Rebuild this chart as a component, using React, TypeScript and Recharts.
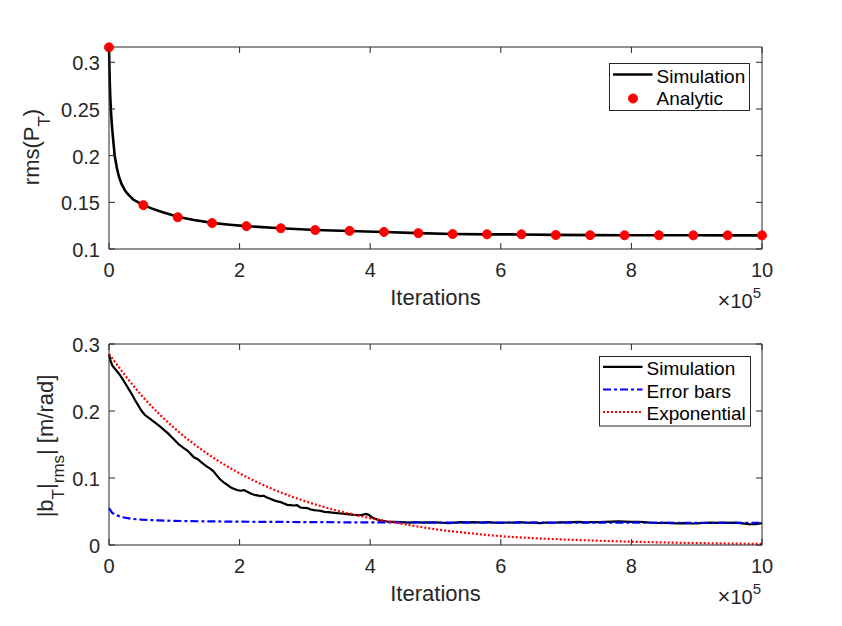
import React from 'react';
import { LineChart, Line, XAxis, YAxis, Legend } from 'recharts';

const FONT = '"Liberation Sans", Arial, Helvetica, sans-serif';
const AX = '#262626';

// x values are in units of 1e5 iterations
const xTicks = [0, 2, 4, 6, 8, 10];
const topYTicks = [0.1, 0.15, 0.2, 0.25, 0.3];
const bottomYTicks = [0, 0.1, 0.2, 0.3];

// Top panel: Simulation rms(P_T)
const topSimX = [0, 0.005, 0.012, 0.02, 0.03, 0.045, 0.06, 0.087, 0.12, 0.15, 0.19, 0.25, 0.3, 0.37, 0.45, 0.53, 0.65, 0.8, 1.05, 1.3, 1.58, 1.85, 2.1, 2.63, 3.16, 3.68, 4.21, 4.74, 5.26, 5.79, 6.31, 6.84, 7.37, 7.89, 8.42, 8.95, 9.47, 10];
const topSimY = [0.316, 0.3, 0.278, 0.262, 0.248, 0.232, 0.22, 0.2, 0.187, 0.178, 0.17, 0.162, 0.158, 0.153, 0.15, 0.147, 0.1435, 0.14, 0.1345, 0.131, 0.128, 0.126, 0.1245, 0.1222, 0.1204, 0.1193, 0.1182, 0.117, 0.1161, 0.1157, 0.1156, 0.1151, 0.1149, 0.1148, 0.1147, 0.1147, 0.1146, 0.1146];

// Top panel: Analytic markers
const analyticX = [0, 0.526, 1.053, 1.579, 2.105, 2.632, 3.158, 3.684, 4.211, 4.737, 5.263, 5.789, 6.316, 6.842, 7.368, 7.895, 8.421, 8.947, 9.474, 10];
const analyticY = [0.316, 0.147, 0.134, 0.1278, 0.1245, 0.1222, 0.1203, 0.1194, 0.1183, 0.117, 0.116, 0.1157, 0.1157, 0.115, 0.1148, 0.1147, 0.1147, 0.1146, 0.1146, 0.1146];

// Bottom panel: Simulation |b_T|_rms
const botSimX = [0, 0.02, 0.05, 0.1, 0.15, 0.2, 0.25, 0.3, 0.35, 0.4, 0.45, 0.5, 0.55, 0.62, 0.7, 0.78, 0.85, 0.9, 0.95, 1.0, 1.07, 1.14, 1.2, 1.25, 1.3, 1.36, 1.42, 1.5, 1.55, 1.6, 1.65, 1.7, 1.76, 1.81, 1.86, 1.91, 1.96, 2.01, 2.07, 2.11, 2.17, 2.22, 2.27, 2.32, 2.37, 2.42, 2.47, 2.52, 2.58, 2.63, 2.68, 2.73, 2.78, 2.83, 2.88, 2.93, 2.98, 3.04, 3.09, 3.14, 3.19, 3.24, 3.3, 3.36, 3.45, 3.55, 3.65, 3.75, 3.83, 3.88, 3.93, 3.98, 4.03, 4.08, 4.14, 4.2, 4.27, 4.35, 4.47, 4.6, 4.7, 4.8, 4.9, 5.0, 5.1, 5.2, 5.3, 5.4, 5.5, 5.6, 5.7, 5.8, 5.9, 6.0, 6.1, 6.2, 6.3, 6.4, 6.5, 6.6, 6.7, 6.8, 6.9, 7.0, 7.1, 7.2, 7.3, 7.4, 7.5, 7.6, 7.7, 7.8, 7.9, 8.0, 8.1, 8.2, 8.3, 8.4, 8.5, 8.6, 8.7, 8.8, 8.9, 9.0, 9.1, 9.2, 9.3, 9.4, 9.5, 9.6, 9.7, 9.8, 9.9, 10];
const botSimY = [0.285, 0.276, 0.268, 0.262, 0.256, 0.249, 0.241, 0.233, 0.225, 0.216, 0.208, 0.2, 0.194, 0.189, 0.183, 0.177, 0.171, 0.167, 0.162, 0.157, 0.15, 0.145, 0.141, 0.136, 0.131, 0.128, 0.123, 0.117, 0.114, 0.11, 0.104, 0.098, 0.093, 0.09, 0.086, 0.084, 0.082, 0.081, 0.082, 0.08, 0.077, 0.075, 0.074, 0.073, 0.0735, 0.071, 0.069, 0.067, 0.065, 0.064, 0.062, 0.06, 0.0595, 0.059, 0.0595, 0.056, 0.0555, 0.055, 0.053, 0.052, 0.0515, 0.051, 0.0495, 0.049, 0.048, 0.047, 0.046, 0.045, 0.0445, 0.045, 0.0465, 0.045, 0.041, 0.039, 0.037, 0.036, 0.035, 0.0345, 0.034, 0.0335, 0.034, 0.0333, 0.0338, 0.0338, 0.0332, 0.0328, 0.0334, 0.034, 0.0337, 0.0342, 0.0336, 0.034, 0.0335, 0.033, 0.0336, 0.0335, 0.034, 0.0332, 0.0333, 0.0328, 0.0336, 0.0332, 0.0339, 0.0337, 0.0342, 0.0345, 0.0338, 0.0343, 0.034, 0.0346, 0.0348, 0.0352, 0.0349, 0.0345, 0.0347, 0.0341, 0.0332, 0.0328, 0.033, 0.0325, 0.0322, 0.0326, 0.0321, 0.0322, 0.0328, 0.0334, 0.033, 0.0335, 0.0331, 0.0333, 0.0322, 0.0312, 0.031, 0.0327];

// Bottom panel: Error bars
const errX = [0, 0.05, 0.1, 0.2, 0.35, 0.5, 0.75, 1, 1.5, 2, 3, 4, 5, 6, 7, 8, 9, 10];
const errY = [0.055, 0.048, 0.045, 0.0415, 0.039, 0.0378, 0.0368, 0.036, 0.0353, 0.0348, 0.0342, 0.0337, 0.0335, 0.0334, 0.0333, 0.0333, 0.0332, 0.0332];

// Bottom panel: Exponential fit
const expX = [0, 0.5, 1, 1.5, 2, 2.5, 3, 3.5, 4, 4.5, 5, 5.5, 6, 6.5, 7, 7.5, 8, 8.5, 9, 9.5, 10];
const expY = [0.285, 0.2231, 0.1746, 0.1367, 0.107, 0.0837, 0.0655, 0.0512, 0.0401, 0.0314, 0.0235, 0.0178, 0.0132, 0.0102, 0.0081, 0.0064, 0.0049, 0.0038, 0.0029, 0.0022, 0.0016];

const zip = (xs: number[], ys: number[]) => xs.map((x, i) => ({ x, y: ys[i] }));
const topSim = zip(topSimX, topSimY);
const analytic = zip(analyticX, analyticY);
const botSim = zip(botSimX, botSimY);
const errBars = zip(errX, errY);
const expo = zip(expX, expY);

const TICK_FS = 20;
const TICK_LEN = 6;
const X_MARGIN = 14;
const Y_MARGIN = 9;
const PLOT_W = 653;

// bottom-axis tick: label plus inward tick marks at bottom and top edges
const makeXTick = (plotH: number) => (props: any) => {
  const { x, y, payload } = props;
  const axisY = y - X_MARGIN;
  return (
    <g>
      <line x1={x} y1={axisY} x2={x} y2={axisY - TICK_LEN} stroke={AX} strokeWidth={1} />
      <line x1={x} y1={axisY - plotH} x2={x} y2={axisY - plotH + TICK_LEN} stroke={AX} strokeWidth={1} />
      <text x={x} y={y} dy="0.71em" textAnchor="middle" fontSize={TICK_FS} fontFamily={FONT} fill={AX}>
        {String(payload.value)}
      </text>
    </g>
  );
};

// left-axis tick: label plus inward tick marks at left and right edges
const YTick = (props: any) => {
  const { x, y, payload } = props;
  const axisX = x + Y_MARGIN;
  return (
    <g>
      <line x1={axisX} y1={y} x2={axisX + TICK_LEN} y2={y} stroke={AX} strokeWidth={1} />
      <line x1={axisX + PLOT_W} y1={y} x2={axisX + PLOT_W - TICK_LEN} y2={y} stroke={AX} strokeWidth={1} />
      <text x={x} y={y} dy="0.4em" textAnchor="end" fontSize={TICK_FS} fontFamily={FONT} fill={AX}>
        {String(payload.value)}
      </text>
    </g>
  );
};

const TopXTick = makeXTick(202);
const BotXTick = makeXTick(201);

const LEG_FS = 19;

const TopLegend = () => (
  <svg width={142} height={49} style={{ display: 'block' }}>
    <rect x={0.5} y={0.5} width={140} height={47} fill="#fff" stroke={AX} strokeWidth={1} />
    <line x1={4} y1={11.5} x2={43.5} y2={11.5} stroke="#000" strokeWidth={2.6} />
    <text x={47.5} y={19.5} fontSize={LEG_FS} fontFamily={FONT} fill="#000">Simulation</text>
    <circle cx={24} cy={35.5} r={4.5} fill="#ff0000" stroke="#ff0000" />
    <text x={47.5} y={41.8} fontSize={LEG_FS} fontFamily={FONT} fill="#000">Analytic</text>
  </svg>
);

const BottomLegend = () => (
  <svg width={153} height={72} style={{ display: 'block' }}>
    <rect x={0.5} y={0.5} width={151} height={69.5} fill="#fff" stroke={AX} strokeWidth={1} />
    <line x1={4} y1={10.8} x2={43.5} y2={10.8} stroke="#000" strokeWidth={2.2} />
    <text x={47.5} y={19.3} fontSize={LEG_FS} fontFamily={FONT} fill="#000">Simulation</text>
    <line x1={4} y1={33.5} x2={43.5} y2={33.5} stroke="#0000ff" strokeWidth={2.2} strokeDasharray="8 3 3 3" />
    <text x={47.5} y={42} fontSize={LEG_FS} fontFamily={FONT} fill="#000">Error bars</text>
    <line x1={4} y1={56} x2={43.5} y2={56} stroke="#ff0000" strokeWidth={2.2} strokeDasharray="2 2" />
    <text x={47.5} y={64.2} fontSize={LEG_FS} fontFamily={FONT} fill="#000">Exponential</text>
  </svg>
);

const LABEL_FS = 22;

export default function App() {
  return (
    <div style={{ position: 'absolute', left: 0, top: 0, width: 842, height: 626, background: '#fff', overflow: 'hidden' }}>
      {/* Top panel */}
      <div style={{ position: 'absolute', left: 0, top: 0 }}>
        <LineChart width={842} height={330} margin={{ top: 46, right: 79, bottom: 41, left: 49 }}>
          <XAxis xAxisId="b" type="number" dataKey="x" domain={[0, 10]} ticks={xTicks} orientation="bottom" height={40}
            tickLine={false} tickSize={0} tickMargin={X_MARGIN} stroke={AX} tick={TopXTick} />
          <XAxis xAxisId="t" type="number" dataKey="x" domain={[0, 10]} ticks={xTicks} orientation="top" height={1}
            tickLine={false} stroke={AX} tick={false} />
          <YAxis yAxisId="l" type="number" domain={[0.1, 0.3164]} ticks={topYTicks} width={60}
            tickLine={false} tickSize={0} tickMargin={Y_MARGIN} stroke={AX} tick={YTick} />
          <YAxis yAxisId="r" type="number" orientation="right" domain={[0.1, 0.3164]} ticks={topYTicks} width={1}
            tickLine={false} stroke={AX} tick={false} />
          <Line xAxisId="b" yAxisId="l" data={topSim} dataKey="y" type="linear" stroke="#000" strokeWidth={2.6}
            dot={false} isAnimationActive={false} />
          <Line xAxisId="b" yAxisId="l" data={analytic} dataKey="y" type="linear" stroke="none" strokeWidth={0}
            dot={{ r: 4.5, fill: '#ff0000', stroke: '#ff0000', strokeWidth: 1 }} isAnimationActive={false} />
          <Legend layout="vertical" align="center" verticalAlign="middle"
            wrapperStyle={{ position: 'absolute', left: 609, top: 63, width: 142, height: 49 }}
            content={() => <TopLegend />} />
        </LineChart>
      </div>

      {/* Bottom panel */}
      <div style={{ position: 'absolute', left: 0, top: 300 }}>
        <LineChart width={842} height={326} margin={{ top: 43, right: 79, bottom: 41, left: 49 }}>
          <XAxis xAxisId="b" type="number" dataKey="x" domain={[0, 10]} ticks={xTicks} orientation="bottom" height={40}
            tickLine={false} tickSize={0} tickMargin={X_MARGIN} stroke={AX} tick={BotXTick} />
          <XAxis xAxisId="t" type="number" dataKey="x" domain={[0, 10]} ticks={xTicks} orientation="top" height={1}
            tickLine={false} stroke={AX} tick={false} />
          <YAxis yAxisId="l" type="number" domain={[0, 0.3]} ticks={bottomYTicks} width={60}
            tickLine={false} tickSize={0} tickMargin={Y_MARGIN} stroke={AX} tick={YTick} />
          <YAxis yAxisId="r" type="number" orientation="right" domain={[0, 0.3]} ticks={bottomYTicks} width={1}
            tickLine={false} stroke={AX} tick={false} />
          <Line xAxisId="b" yAxisId="l" data={botSim} dataKey="y" type="linear" stroke="#000" strokeWidth={2.2}
            dot={false} isAnimationActive={false} />
          <Line xAxisId="b" yAxisId="l" data={errBars} dataKey="y" type="linear" stroke="#0000ff" strokeWidth={2.2}
            strokeDasharray="8 3 3 3" dot={false} isAnimationActive={false} />
          <Line xAxisId="b" yAxisId="l" data={expo} dataKey="y" type="monotone" stroke="#ff0000" strokeWidth={2.2}
            strokeDasharray="2 2" dot={false} isAnimationActive={false} />
          <Legend layout="vertical" align="center" verticalAlign="middle"
            wrapperStyle={{ position: 'absolute', left: 599, top: 55.5, width: 153, height: 72 }}
            content={() => <BottomLegend />} />
        </LineChart>
      </div>

      {/* Axis labels */}
      <svg width={842} height={626} style={{ position: 'absolute', left: 0, top: 0, pointerEvents: 'none' }}>
        <g fontFamily={FONT} fill={AX}>
          <text x={435.5} y={305} textAnchor="middle" fontSize={LABEL_FS}>Iterations</text>
          <text x={435.5} y={601} textAnchor="middle" fontSize={LABEL_FS}>Iterations</text>
          <text x={761} y={308} textAnchor="end" fontSize={20}>
            <tspan fontSize={22}>×</tspan>10<tspan dy={-10} fontSize={15}>5</tspan>
          </text>
          <text x={761} y={604} textAnchor="end" fontSize={20}>
            <tspan fontSize={22}>×</tspan>10<tspan dy={-10} fontSize={15}>5</tspan>
          </text>
          <text transform="translate(38.5,147) rotate(-90)" textAnchor="middle" fontSize={LABEL_FS}>
            rms(P<tspan dy={11} fontSize={17}>T</tspan><tspan dy={-11}>)</tspan>
          </text>
          <text transform="translate(53,446) rotate(-90)" textAnchor="middle" fontSize={LABEL_FS}>
            |b<tspan dy={11} fontSize={17}>T</tspan><tspan dy={-11}>|</tspan><tspan dy={11} fontSize={17}>rms</tspan><tspan dy={-11}>| [m/rad]</tspan>
          </text>
        </g>
      </svg>
    </div>
  );
}
